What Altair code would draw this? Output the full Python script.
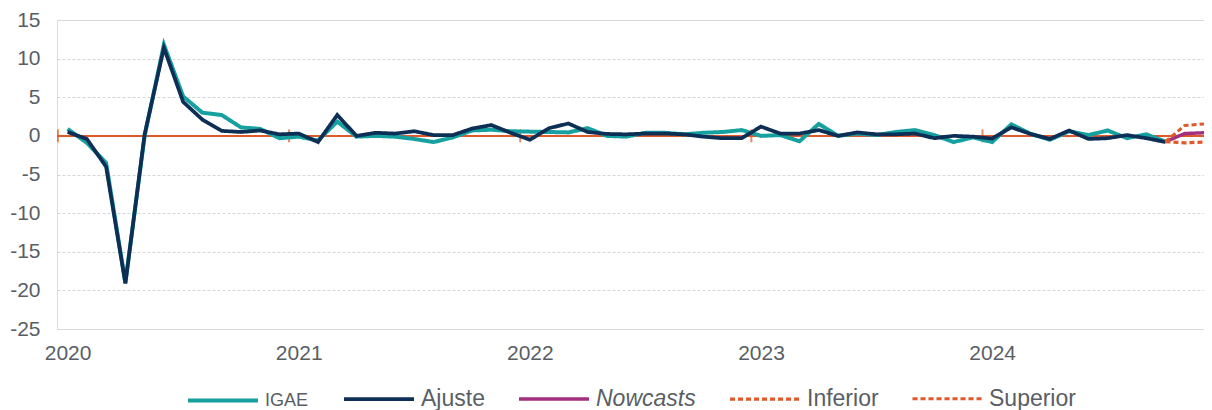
import json
import altair as alt
import pandas as pd

# ---- data (monthly % change) ----
years = ["2020", "2021", "2022", "2023", "2024"]
months = [f"{y}-{m:02d}" for y in years for m in range(1, 13)]

igae = [
    0.9, -0.9, -3.5, -19.0, 0.0, 11.8, 5.1, 3.0, 2.7, 1.1, 0.9, -0.3,
    -0.1, -0.6, 1.85, -0.1, 0.0, -0.1, -0.4, -0.8, -0.2, 0.7, 0.8, 0.6,
    0.55, 0.5, 0.45, 1.0, 0.0, -0.1, 0.4, 0.4, 0.2, 0.4, 0.5, 0.75,
    0.0, 0.1, -0.7, 1.55, 0.0, 0.3, 0.1, 0.5, 0.75, 0.1, -0.8, -0.2,
    -0.8, 1.5, 0.25, -0.5, 0.6, 0.1, 0.7, -0.3, 0.2, -0.75,
]
ajuste = [
    0.5, -0.4, -4.0, -19.1, 0.2, 11.4, 4.4, 2.1, 0.65, 0.5, 0.7, 0.2,
    0.3, -0.8, 2.7, 0.0, 0.4, 0.3, 0.6, 0.1, 0.1, 0.95, 1.4, 0.4,
    -0.5, 1.0, 1.6, 0.5, 0.25, 0.2, 0.3, 0.3, 0.2, -0.1, -0.3, -0.3,
    1.2, 0.3, 0.3, 0.75, 0.0, 0.45, 0.2, 0.2, 0.3, -0.3, 0.0, -0.1,
    -0.35, 1.1, 0.25, -0.4, 0.7, -0.4, -0.3, 0.1, -0.3, -0.8,
]
forecast_months = ["2024-10", "2024-11", "2024-12"]
nowcasts = [-0.75, 0.3, 0.4]
inferior = [-0.75, -0.9, -0.8]
superior = [-0.75, 1.35, 1.55]

series_names = ["IGAE", "Ajuste", "Nowcasts", "Inferior", "Superior"]
series_colors = ["#17a0a0", "#0d2e55", "#a2307f", "#e0592a", "#e0592a"]
series_dash = [[1, 0], [1, 0], [1, 0], [5, 3], [5, 3]]
series_width = [4, 3, 4, 2.5, 2.5]

# ---- long table ----
rows = []
def add(name, ms, vals):
    for m, v in zip(ms, vals):
        rows.append({"serie": name, "i": months.index(m), "valor": v})

add("IGAE", months[: len(igae)], igae)
add("Ajuste", months[: len(ajuste)], ajuste)
add("Nowcasts", forecast_months, nowcasts)
add("Inferior", forecast_months, inferior)
add("Superior", forecast_months, superior)
df = pd.DataFrame(rows)

# year boundary ticks on the zero line
ticks_df = pd.DataFrame({"i": [months.index(f"{y}-01") - 0.5 for y in years]})

label_color = "#595e64"
font = "Liberation Sans"
orange = "#e0592a"

year_positions = [months.index(f"{y}-01") for y in years]
label_expr = f"{json.dumps(years)}[round(datum.value/12)]"

xscale = alt.Scale(domain=[-0.55, 59.0], nice=False, zero=False)
xaxis = alt.Axis(values=year_positions, labelExpr=label_expr, ticks=False,
                 domain=False, grid=False, labelPadding=13, title=None,
                 labelOverlap=False, tickCount=20,
                 labelFontSize=21, labelColor=label_color, labelFont=font)
yscale = alt.Scale(domain=[-25, 15], nice=False, zero=False)
yaxis = alt.Axis(values=list(range(-25, 20, 5)), labelExpr="datum.value + ''",
                 ticks=False, domain=False, grid=True, gridDash=[3, 2],
                 gridColor="#d6d6d6", gridWidth=1, labelPadding=17, title=None,
                 labelOverlap=False, tickCount=20,
                 labelFontSize=21, labelColor=label_color, labelFont=font)

legend = alt.Legend(
    title=None, orient="none", legendX=129, legendY=342, direction="horizontal",
    symbolType="stroke", symbolSize=4900, labelOffset=5, columnPadding=27,
    padding=0, labelFont=font, labelColor=label_color,
    labelFontSize={"expr": "datum.label == 'IGAE' ? 18 : 23"},
    labelFontStyle={"expr": "datum.label == 'Nowcasts' ? 'italic' : 'normal'"},
    labelLimit=300,
)

color = alt.Color("serie:N", scale=alt.Scale(domain=series_names, range=series_colors), legend=legend)
dash = alt.StrokeDash("serie:N", scale=alt.Scale(domain=series_names, range=series_dash), legend=legend)
swidth = alt.StrokeWidth("serie:N", scale=alt.Scale(domain=series_names, range=series_width), legend=legend)

zero = alt.Chart(ticks_df).mark_rule(color=orange, strokeWidth=2).encode(y=alt.datum(0, scale=yscale, axis=yaxis))
ticks = alt.Chart(ticks_df).mark_tick(color=orange, orient="vertical", size=13, thickness=2).encode(
    x=alt.X("i:Q", scale=xscale, axis=xaxis), y=alt.datum(0))

base = alt.Chart(df).mark_line(strokeJoin="miter", strokeCap="butt").encode(
    x=alt.X("i:Q", scale=xscale, axis=xaxis),
    y=alt.Y("valor:Q", scale=yscale, axis=yaxis),
    color=color, strokeDash=dash, strokeWidth=swidth,
)
layers = [base.transform_filter(alt.datum.serie == s) for s in series_names]

chart = alt.layer(zero, ticks, *layers).properties(
    width=1147, height=309,
    padding={"left": 49, "top": 12, "right": 0, "bottom": 81},
    autosize=alt.AutoSizeParams(type="none"),
).configure_view(stroke=None).configure(font=font)

chart.save("out.html", embed_options={"renderer": "svg", "actions": False})
